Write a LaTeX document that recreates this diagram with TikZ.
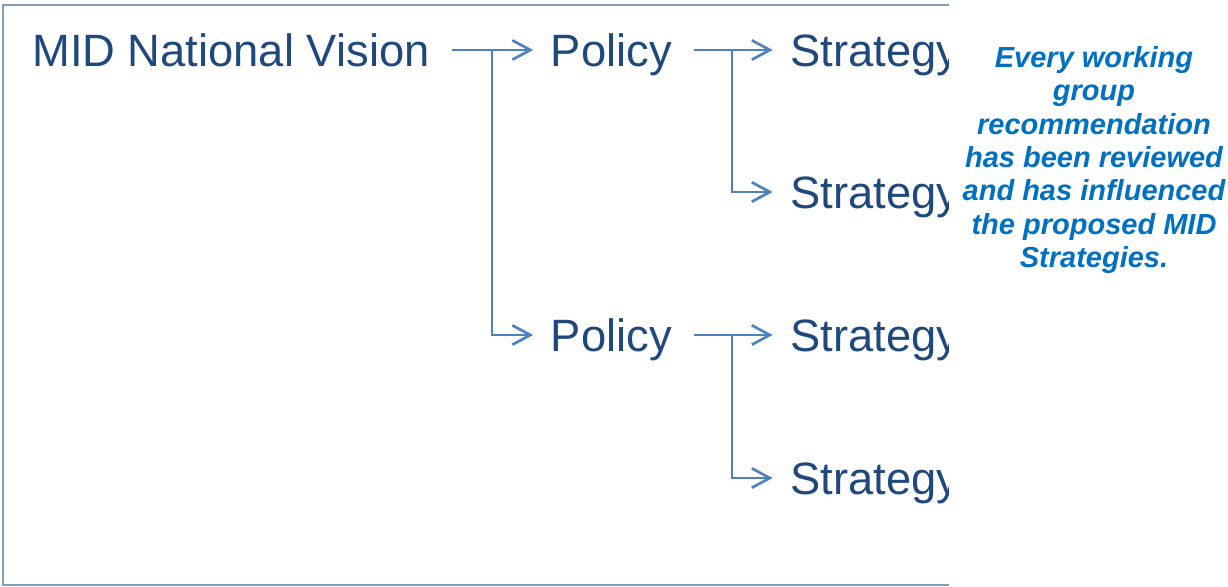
\documentclass[tikz,border=0pt]{standalone}
\usepackage{fontspec}
\setmainfont{Liberation Sans}
\usetikzlibrary{arrows.meta}
\definecolor{txtblue}{HTML}{1F497D}
\definecolor{linkblue}{HTML}{4F81BD}
\definecolor{framegray}{RGB}{127,158,184}
\definecolor{noteblue}{HTML}{0070C0}

\begin{document}
\begin{tikzpicture}[x=0.75pt, y=-0.75pt,
    item/.style={anchor=west, inner sep=0pt, text=txtblue, font=\fontsize{34}{40}\selectfont, text height=24.3pt, text depth=0pt},
    link/.style={draw=linkblue, line width=2pt, shorten <=16.5pt, shorten >=13pt, -{Straight Barb[length=13.5pt, width=14.5pt]}},
    branch/.style={link, shorten <=0pt},
    note/.style={align=center, inner sep=0pt, text=noteblue, font=\fontsize{21.75}{25.1}\selectfont\bfseries\itshape}]
    \useasboundingbox (0,0) rectangle (1228,586);
    \draw[framegray, line width=1.5pt] (3,5) rectangle (1000,585);
    \coordinate (j1) at (492,50);
    \coordinate (j2) at (732,50);
    \coordinate (j3) at (732,335);
    \node[item] (vision) at (32,50) {MID National Vision};
    \node[item] (pol1) at (550.5,50) {Policy};
    \node[item] (pol2) at (550.5,335) {Policy};
    \node[item] (str1) at (790,50) {Strategy};
    \node[item] (str2) at (790,192) {Strategy};
    \node[item] (str3) at (790,335) {Strategy};
    \node[item] (str4) at (790,478) {Strategy};
    \draw[link] (vision.east) -- (j1) -- (pol1.west);
    \draw[branch] (j1) |- (pol2.west);
    \draw[link] (pol1.east) -- (j2) -- (str1.west);
    \draw[branch] (j2) |- (str2.west);
    \draw[link] (pol2.east) -- (j3) -- (str3.west);
    \draw[branch] (j3) |- (str4.west);
    % white panel cuts the frame and the strategy words
    \fill[white] (949,-1) rectangle (1229,587);
    \node[note] (note) at (1094,160) {Every working\\group\\recommendation\\has been reviewed\\and has influenced\\the proposed MID\\Strategies.};
\end{tikzpicture}
\end{document}
